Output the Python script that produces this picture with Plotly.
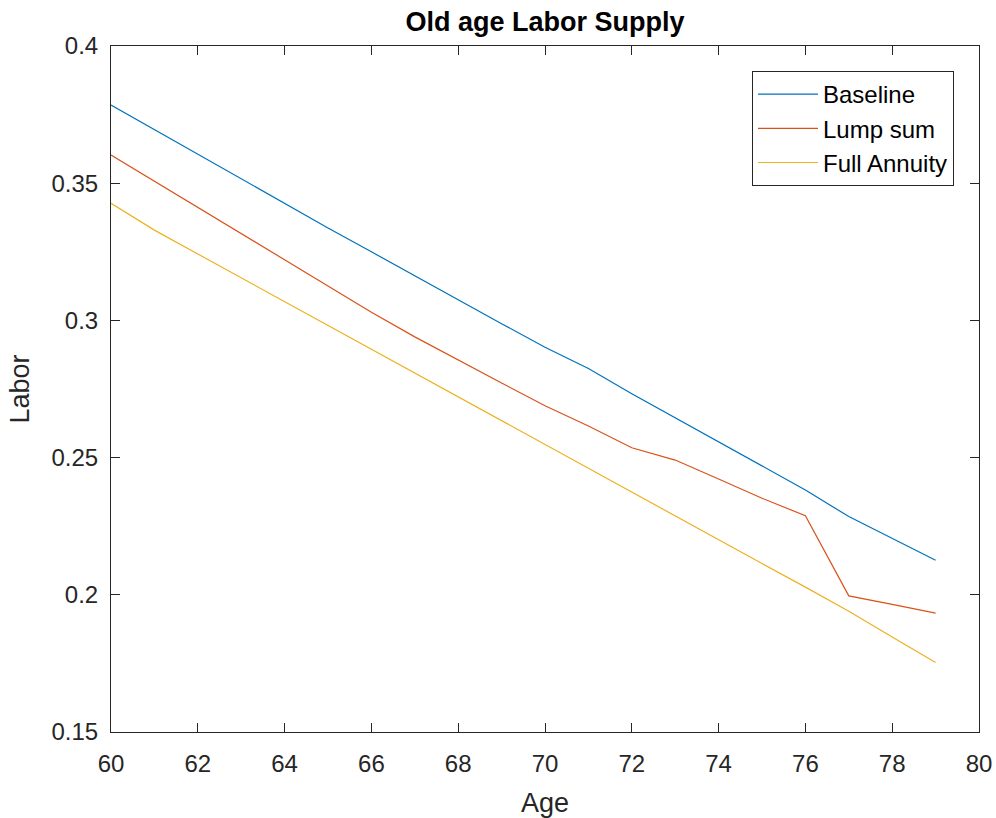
import plotly.graph_objects as go

# Age grid and labor supply paths for the three pension regimes
age = list(range(60, 80))
baseline = [0.3785, 0.3695, 0.3605, 0.3515, 0.3425, 0.3337, 0.3250, 0.3162, 0.3075,
            0.2988, 0.2902, 0.2825, 0.2733, 0.2645, 0.2558, 0.2470, 0.2382, 0.2285,
            0.2205, 0.2126]
lump_sum = [0.3603, 0.3507, 0.3411, 0.3316, 0.3220, 0.3125, 0.3030, 0.2940, 0.2855,
            0.2772, 0.2689, 0.2615, 0.2536, 0.2491, 0.2422, 0.2352, 0.2288, 0.1996,
            0.1965, 0.1933]
full_annuity = [0.3427, 0.3329, 0.3242, 0.3155, 0.3068, 0.2981, 0.2894, 0.2807, 0.2720,
                0.2633, 0.2546, 0.2459, 0.2372, 0.2286, 0.2200, 0.2114, 0.2028, 0.1940,
                0.1846, 0.1753]

series = [("Baseline", baseline, "#0072BD"),
          ("Lump sum", lump_sum, "#D95319"),
          ("Full Annuity", full_annuity, "#EDB120")]

x_ticks = list(range(60, 81, 2))
y_ticks = [0.15, 0.2, 0.25, 0.3, 0.35, 0.4]

FONT = "Liberation Sans, Arial, Helvetica, sans-serif"
AXIS_COLOR = "#262626"

W, H = 996, 818
L, R, T, B = 111, 17, 46, 86

fig = go.Figure()
for name, values, color in series:
    fig.add_trace(go.Scatter(x=age, y=values, mode="lines", name=name,
                             line=dict(color=color, width=1.2)))

axis_common = dict(
    showgrid=False, zeroline=False, showline=True, linecolor=AXIS_COLOR, linewidth=1,
    mirror="ticks", ticks="inside", ticklen=9, tickcolor=AXIS_COLOR, tickwidth=1,
    tickfont=dict(family=FONT, size=24, color=AXIS_COLOR), automargin=False,
)

fig.update_layout(
    width=W, height=H,
    margin=dict(l=L, r=R, t=T, b=B, autoexpand=False),
    paper_bgcolor="white", plot_bgcolor="white",
    font=dict(family=FONT, color=AXIS_COLOR),
    title=dict(text="<b>Old age Labor Supply</b>", x=0.5 * (L + W - R) / W, xanchor="center",
               y=1 - 22 / H, yanchor="middle",
               font=dict(family=FONT, size=27, color="black")),
    xaxis=dict(range=[60, 80], tickvals=x_ticks, ticktext=[str(t) for t in x_ticks],
               ticklabelstandoff=10,
               title=dict(text="Age", font=dict(family=FONT, size=27, color=AXIS_COLOR), standoff=18),
               **axis_common),
    yaxis=dict(range=[0.15, 0.4], tickvals=y_ticks, ticktext=[f"{t:g}" for t in y_ticks],
               ticklabelstandoff=7,
               title=dict(text="Labor", font=dict(family=FONT, size=27, color=AXIS_COLOR), standoff=14),
               **axis_common),
    legend=dict(x=(954 - L) / (W - L - R), y=(H - B - 71) / (H - T - B),
                xanchor="right", yanchor="top",
                bgcolor="white", bordercolor=AXIS_COLOR, borderwidth=1,
                font=dict(family=FONT, size=24, color="black"),
                itemwidth=60, tracegroupgap=0),
    showlegend=True,
)

fig.write_html("out.html")
